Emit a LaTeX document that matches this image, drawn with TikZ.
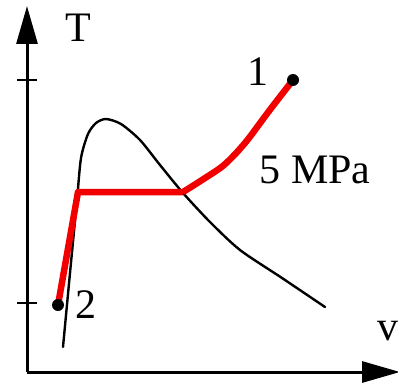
\documentclass[tikz,border=0pt]{standalone}
\usepackage{fontspec}
\setmainfont{Liberation Serif}
\usetikzlibrary{arrows.meta}
\begin{document}
\begin{tikzpicture}[x=1pt,y=-1pt,
  axis/.style={line width=3pt,-{Triangle[length=38pt,width=21pt]}},
  curve/.style={line width=2.4pt,line cap=round,line join=round},
  process/.style={line width=6.5pt,red!95!black,line join=round},
  lbl/.style={font=\fontsize{42}{44}\selectfont,anchor=base,inner sep=0pt},
  dot/.style={circle,fill=black,inner sep=0pt,minimum size=12pt}]
\useasboundingbox (0,0) rectangle (398,385);
\coordinate (O) at (27,372);
\coordinate (Ytop) at (27,6);
\coordinate (Xend) at (400,372);
\draw[axis] (O) -- (Ytop);
\draw[axis] (O) -- (Xend);
\draw[line width=2.5pt] (17,80) -- (37,80);
\draw[line width=2.5pt] (17,303) -- (37,303);
% saturation dome
\draw[curve] plot[smooth,tension=0.45] coordinates {(63,347) (70,273) (77,200) (81,158) (88,134) (96,123) (106,119) (121,124) (140,140) (160,165) (183,193) (210,222) (240,250) (282,278) (325,307)};
% process line
\coordinate (p2) at (58,305);
\coordinate (p1) at (293,80);
\draw[process] (p2) -- (78,192) -- (183,192) plot[smooth,tension=0.5] coordinates {(183,192) (202,180) (224,165) (245,143) (269,111) (293,80)};
\node[dot] (d2) at (p2) {};
\node[dot] (d1) at (p1) {};
\node[lbl] (T) at (78,42) {T};
\node[lbl] (v) at (388,340) {v};
\node[lbl] (l1) at (258,85) {1};
\node[lbl] (l2) at (86,318) {2};
\node[lbl] (mpa) at (315,183) {5 MPa};
\end{tikzpicture}
\end{document}
